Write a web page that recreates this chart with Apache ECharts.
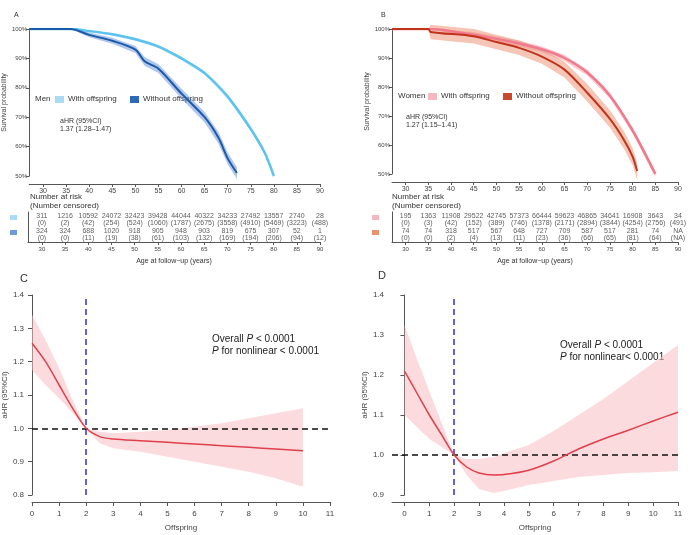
<!DOCTYPE html>
<html>
<head>
<meta charset="UTF-8">
<script src="https://cdn.jsdelivr.net/npm/echarts@6/dist/echarts.min.js"></script>
<style>body{margin:0;background:#fff}#main{width:700px;height:535px}</style>
</head>
<body>
<div id="main"></div>
<script>
// ---- survival curves (age, %)
var ageAWith = [27, 36, 40, 45, 50, 55, 60, 65, 70, 75, 78, 80];
var survAWith = [100, 100, 99.3, 98.2, 96.5, 94, 90, 85, 77, 66, 58, 50];
var ageAWo = [27, 36, 40, 45, 50, 52, 55, 60, 65, 68, 70, 72];
var survAWo = [100, 100, 98, 96, 93, 89, 86.5, 78, 70, 63, 56, 51];
var ageBWith = [27, 35, 45, 55, 60, 65, 70, 75, 80, 85];
var survBWith = [100, 100, 98, 95, 93, 90, 85, 77, 65, 50];
var ageBWo = [27, 35, 35.5, 45, 50, 55, 60, 65, 70, 75, 78, 80, 81];
var survBWo = [100, 100, 99, 97.5, 95.5, 93.5, 90.5, 86, 78, 69, 62, 56, 51];
var bandAWith = [0, 0, 0.3, 0.4, 0.5, 0.5, 0.6, 0.6, 0.7, 0.7, 0.7, 0.7];
var bandAWo = [0, 0, 0.8, 1, 1.2, 1.5, 1.5, 1.7, 1.8, 2, 2, 2];
var bandBWith = [0, 0, 1, 1, 1, 1, 1, 1, 1, 1];
var bandBWo = [0, 0, 2.5, 2.5, 2.5, 2.5, 2.5, 2.7, 3, 3, 3, 3, 3];

// ---- number at risk (censored)
var riskAges = [30, 35, 40, 45, 50, 55, 60, 65, 70, 75, 80, 85, 90];
var riskAWith = ['311','1216','10592','24072','32423','39428','44044','40322','34233','27492','13557','2740','28'];
var censAWith = ['0','2','42','254','524','1060','1787','2675','3558','4910','5469','3223','488'];
var riskAWo = ['324','324','688','1020','918','905','948','903','819','675','307','52','1'];
var censAWo = ['0','0','11','19','38','61','103','132','169','194','206','94','12'];
var riskBWith = ['195','1363','11908','29522','42745','57373','66444','59623','46865','34641','16908','3643','34'];
var censBWith = ['0','3','42','152','389','746','1378','2171','2894','3844','4254','2756','491'];
var riskBWo = ['74','74','318','517','567','648','727','709','587','517','281','74','NA'];
var censBWo = ['0','0','2','4','13','11','23','36','66','65','81','64','NA'];

// ---- restricted cubic spline aHR by offspring number
var offC = [0, 0.5, 1, 1.5, 2, 2.5, 3, 4, 5, 6, 7, 8, 9, 10];
var hrC = [1.255, 1.2, 1.13, 1.06, 1.0, 0.975, 0.968, 0.963, 0.958, 0.953, 0.948, 0.943, 0.938, 0.933];
var loC = [1.175, 1.13, 1.09, 1.045, 1.0, 0.955, 0.94, 0.93, 0.915, 0.9, 0.885, 0.87, 0.85, 0.825];
var upC = [1.34, 1.265, 1.18, 1.085, 1.0, 0.99, 0.985, 0.99, 0.995, 1.005, 1.015, 1.03, 1.045, 1.06];
var offD = [0, 0.5, 1, 1.5, 2, 2.5, 3, 3.6, 4, 5, 6, 7, 8, 9, 10, 11];
var hrD = [1.21, 1.155, 1.1, 1.05, 1.0, 0.97, 0.955, 0.95, 0.951, 0.962, 0.985, 1.015, 1.04, 1.062, 1.085, 1.107];
var loD = [1.1, 1.07, 1.04, 1.02, 1.0, 0.95, 0.915, 0.905, 0.91, 0.925, 0.935, 0.945, 0.95, 0.955, 0.957, 0.96];
var upD = [1.325, 1.24, 1.16, 1.08, 1.0, 0.99, 0.99, 0.995, 1.005, 1.025, 1.06, 1.1, 1.14, 1.185, 1.23, 1.275];

var chart = echarts.init(document.getElementById('main'));
var F = 'Liberation Sans, Arial, sans-serif';
var axCol = '#555';

function pairs(xs, ys) { return xs.map(function (x, i) { return [x, ys[i]]; }); }
function lo2(a, b) { return a.map(function (v, i) { return v - b[i]; }); }
function hi2(a, b) { return a.map(function (v, i) { return v + b[i]; }); }

// confidence band as one polygon, points placed through the axis scales
function band(xs, lo, hi, idx, color) {
  return { type: 'custom', xAxisIndex: idx, yAxisIndex: idx, silent: true, z: 1,
    data: [[xs[0], lo[0]]],
    renderItem: function (params, api) {
      var pts = [];
      for (var i = 0; i < xs.length; i++) pts.push(api.coord([xs[i], hi[i]]));
      for (var j = xs.length - 1; j >= 0; j--) pts.push(api.coord([xs[j], lo[j]]));
      return { type: 'polygon', shape: { points: pts }, style: { fill: color } };
    } };
}
function line(xs, ys, idx, color, w) {
  return { type: 'line', xAxisIndex: idx, yAxisIndex: idx, symbol: 'none', smooth: 0.3,
    lineStyle: { color: color, width: w }, data: pairs(xs, ys), z: 5 };
}
function riskRows(ages, r1, c1, r2, c2, idx) {
  var d = [];
  ages.forEach(function (a, i) {
    d.push({ value: [a, 3.5], name: r1[i] });
    d.push({ value: [a, 2.5], name: '(' + c1[i] + ')' });
    d.push({ value: [a, 1.5], name: r2[i] });
    d.push({ value: [a, 0.5], name: '(' + c2[i] + ')' });
  });
  return { type: 'scatter', xAxisIndex: idx, yAxisIndex: idx, symbolSize: 0, data: d,
    label: { show: true, formatter: '{b}', fontSize: 7, color: '#333', fontFamily: F } };
}

var xKM = function (idx) {
  return { gridIndex: idx, type: 'value', min: 27, max: 90, interval: 5, offset: 8,
    axisLine: { lineStyle: { color: axCol } }, axisTick: { length: 3, customValues: riskAges }, splitLine: { show: false },
    axisLabel: { fontSize: 7, color: '#444', customValues: riskAges, margin: 4 } };
};
var yKM = function (idx) {
  return { gridIndex: idx, type: 'value', min: 50, max: 100, interval: 10,
    name: 'Survival probability', nameLocation: 'middle', nameGap: 20, nameTextStyle: { fontSize: 7, color: '#444' },
    axisLine: { show: true, lineStyle: { color: axCol } }, axisTick: { show: true, length: 3 }, splitLine: { show: false },
    axisLabel: { fontSize: 6, color: '#444', formatter: '{value}%', margin: 2 } };
};
var xRisk = function (idx) {
  return { gridIndex: idx, type: 'value', min: 27, max: 90, axisLine: { lineStyle: { color: axCol } },
    axisTick: { length: 3, customValues: riskAges }, splitLine: { show: false },
    axisLabel: { fontSize: 6, color: '#444', customValues: riskAges, margin: 4 },
    name: 'Age at follow−up (years)', nameLocation: 'middle', nameGap: 16, nameTextStyle: { fontSize: 7, color: '#333' } };
};
var yRisk = function (idx) {
  return { gridIndex: idx, type: 'value', min: 0, max: 4, axisLine: { show: true, lineStyle: { color: axCol } },
    axisTick: { show: false }, axisLabel: { show: false }, splitLine: { show: false } };
};
var xRcs = function (idx, min) {
  return { gridIndex: idx, type: 'value', min: min, max: 11, offset: 7, axisLine: { lineStyle: { color: axCol } },
    axisTick: { length: 4, customValues: [0,1,2,3,4,5,6,7,8,9,10,11] }, splitLine: { show: false },
    axisLabel: { fontSize: 8, color: '#444', customValues: [0,1,2,3,4,5,6,7,8,9,10,11] },
    name: 'Offspring', nameLocation: 'middle', nameGap: 22, nameTextStyle: { fontSize: 8, color: '#444' } };
};
var yRcs = function (idx, min) {
  return { gridIndex: idx, type: 'value', min: min, max: 1.4, interval: 0.1,
    name: 'aHR (95%CI)', nameLocation: 'middle', nameGap: 22, nameTextStyle: { fontSize: 8, color: '#444' },
    axisLine: { show: true, lineStyle: { color: axCol } }, axisTick: { show: true, length: 4 }, splitLine: { show: false },
    axisLabel: { fontSize: 8, color: '#444', formatter: function (v) { return v.toFixed(1); } } };
};
function refLines(idx) {
  return { type: 'line', xAxisIndex: idx, yAxisIndex: idx, data: [], symbol: 'none',
    markLine: { silent: true, symbol: 'none', label: { show: false },
      data: [
        { xAxis: 2, lineStyle: { color: '#3030d0', type: [6, 4], width: 1.5 } },
        { yAxis: 1, lineStyle: { color: '#111', type: [6, 4], width: 1.5 } }
      ] } };
}

var series = [
  band(ageAWith, lo2(survAWith, bandAWith), hi2(survAWith, bandAWith), 0, 'rgba(120,200,240,0.5)'),
  band(ageAWo, lo2(survAWo, bandAWo), hi2(survAWo, bandAWo), 0, 'rgba(80,130,210,0.45)'),
  line(ageAWith, survAWith, 0, '#5cc3ee', 2.5),
  line(ageAWo, survAWo, 0, '#1b5aa8', 2),
  band(ageBWith, lo2(survBWith, bandBWith), hi2(survBWith, bandBWith), 1, 'rgba(245,150,160,0.5)'),
  band(ageBWo, lo2(survBWo, bandBWo), hi2(survBWo, bandBWo), 1, 'rgba(235,140,110,0.5)'),
  line(ageBWith, survBWith, 1, '#f07a8c', 2.5),
  line(ageBWo, survBWo, 1, '#c0341c', 2),
  riskRows(riskAges, riskAWith, censAWith, riskAWo, censAWo, 2),
  riskRows(riskAges, riskBWith, censBWith, riskBWo, censBWo, 3),
  band(offC, loC, upC, 4, 'rgba(250,190,195,0.55)'),
  line(offC, hrC, 4, '#e0404c', 1.5),
  refLines(4),
  band(offD, loD, upD, 5, 'rgba(250,190,195,0.55)'),
  line(offD, hrD, 5, '#e0404c', 1.5),
  refLines(5)
];

function legendG(x, y, title, c1, c2) {
  var o = title === 'Men' ? 20 : 30;
  return [
    { type: 'text', left: x, top: y, style: { text: title, fontSize: 8, fill: '#333', fontFamily: F } },
    { type: 'rect', left: x + o, top: y + 1, shape: { width: 9, height: 7 }, style: { fill: c1 } },
    { type: 'text', left: x + o + 13, top: y, style: { text: 'With offspring', fontSize: 8, fill: '#333', fontFamily: F } },
    { type: 'rect', left: x + o + 75, top: y + 1, shape: { width: 9, height: 7 }, style: { fill: c2 } },
    { type: 'text', left: x + o + 88, top: y, style: { text: 'Without offspring', fontSize: 8, fill: '#333', fontFamily: F } }
  ];
}
var txt = function (x, y, t, s) { return { type: 'text', left: x, top: y, style: { text: t, fontSize: s || 7, fill: '#333', fontFamily: F } }; };
var rich = { a: { fontSize: 10, fontFamily: F, fill: '#222' }, i: { fontSize: 10, fontFamily: F, fontStyle: 'italic', fill: '#222' } };
var graphics = [
  txt(14, 12, 'A'), txt(381, 12, 'B'), txt(20, 273, 'C', 11), txt(378, 270, 'D', 11),
  txt(60, 118, 'aHR (95%CI)'), txt(60, 126, '1.37 (1.28–1.47)'),
  txt(406, 114, 'aHR (95%CI)'), txt(406, 122, '1.27 (1.15–1.41)'),
  txt(30, 193, 'Number at risk', 8), txt(30, 202, '(Number censored)', 8),
  txt(392, 193, 'Number at risk', 8), txt(392, 202, '(Number censored)', 8),
  { type: 'rect', left: 10, top: 215, shape: { width: 7, height: 5 }, style: { fill: '#a8dcf4' } },
  { type: 'rect', left: 10, top: 230, shape: { width: 7, height: 5 }, style: { fill: '#6e9bd8' } },
  { type: 'rect', left: 372, top: 215, shape: { width: 7, height: 5 }, style: { fill: '#f6b8c0' } },
  { type: 'rect', left: 372, top: 230, shape: { width: 7, height: 5 }, style: { fill: '#e8926e' } },
  { type: 'text', left: 212, top: 333, style: { rich: rich, text: '{a|Overall }{i|P}{a| < 0.0001}\n{i|P}{a| for nonlinear < 0.0001}', lineHeight: 12 } },
  { type: 'text', left: 560, top: 339, style: { rich: rich, text: '{a|Overall }{i|P}{a| < 0.0001}\n{i|P}{a| for nonlinear< 0.0001}', lineHeight: 12 } }
].concat(legendG(35, 95, 'Men', '#a8dcf4', '#2f6ab8')).concat(legendG(398, 92, 'Women', '#f6b8c0', '#c84a2a'));

chart.setOption({
  animation: false,
  textStyle: { fontFamily: F },
  grid: [
    { left: 28, top: 29, width: 292, height: 147 },
    { left: 392, top: 29, width: 286, height: 145 },
    { left: 28, top: 212, width: 292, height: 30 },
    { left: 392, top: 212, width: 286, height: 30 },
    { left: 32, top: 295, width: 298, height: 200 },
    { left: 392, top: 295, width: 286, height: 200 }
  ],
  xAxis: [xKM(0), xKM(1), xRisk(2), xRisk(3), xRcs(4, 0), xRcs(5, -0.5)],
  yAxis: [yKM(0), yKM(1), yRisk(2), yRisk(3), yRcs(4, 0.8), yRcs(5, 0.9)],
  series: series,
  graphic: graphics
});
</script>
</body>
</html>
